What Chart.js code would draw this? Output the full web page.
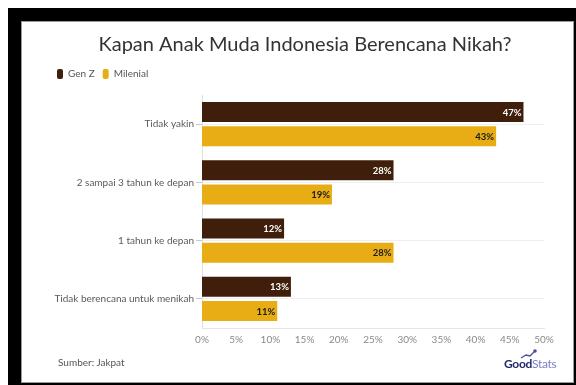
<!DOCTYPE html>
<html>
<head>
<meta charset="utf-8">
<script src="https://cdn.jsdelivr.net/npm/chart.js@4"></script>
<style>
  html, body { margin: 0; padding: 0; background: #fff; }
  body { width: 576px; height: 385px; position: relative; overflow: hidden; font-family: Lato, "Noto Sans", sans-serif; }
  #frame { position: absolute; left: 8px; top: 8px; width: 568px; height: 377px; background: #000; }
  #panel { position: absolute; left: 21px; top: 21px; width: 551px; height: 360px; background: #fff; border: 1px solid #9a9a9a; }
  #c { position: absolute; left: 0; top: 0; }
  #source { position: absolute; left: 58px; top: 356px; font-size: 10px; color: #555; }
  #logo { position: absolute; left: 504px; top: 356px; font-size: 12px; letter-spacing: -0.3px; }
  #logo .g { color: #23286b; font-weight: bold; }
  #logo .s { color: #7a7fc4; }
  #logoIcon { position: absolute; left: 520px; top: 348px; }
</style>
</head>
<body>
<div id="frame"></div>
<div id="panel"></div>
<canvas id="c" width="576" height="385"></canvas>
<div id="source">Sumber: Jakpat</div>
<svg id="logoIcon" width="20" height="12" viewBox="0 0 20 12">
  <polyline points="1,10 6,7 10,8 15,3" fill="none" stroke="#4a4fa0" stroke-width="1.3"/>
  <circle cx="15" cy="3" r="1.8" fill="#4a4fa0"/>
</svg>
<div id="logo"><span class="g">Good</span><span class="s">Stats</span></div>
<script>
const categories = ['Tidak yakin', '2 sampai 3 tahun ke depan', '1 tahun ke depan', 'Tidak berencana untuk menikah'];
const seriesNames = ['Gen Z', 'Milenial'];
const genZ = [47, 28, 12, 13];
const milenial = [43, 19, 28, 11];
const xTickValues = [0, 5, 10, 15, 20, 25, 30, 35, 40, 45, 50];
const titleText = 'Kapan Anak Muda Indonesia Berencana Nikah?';

const colGenZ = '#3f1f0b';
const colMil = '#e8ad15';

const valueLabels = {
  id: 'valueLabels',
  afterDatasetsDraw(chart) {
    const ctx = chart.ctx;
    ctx.save();
    ctx.font = 'bold 9.5px Lato, sans-serif';
    ctx.textAlign = 'right';
    ctx.textBaseline = 'middle';
    chart.data.datasets.forEach((ds, di) => {
      const meta = chart.getDatasetMeta(di);
      meta.data.forEach((bar, i) => {
        ctx.fillStyle = di === 0 ? '#ffffff' : '#1a1a1a';
        ctx.fillText(ds.data[i] + '%', bar.x - 2, bar.y + 0.5);
      });
    });
    ctx.restore();
  }
};

const layoutTweaks = {
  id: 'layoutTweaks',
  afterInit(chart) {
    const lg = chart.legend;
    if (lg && !lg._patched) {
      const origFit = lg.fit;
      lg.fit = function () { origFit.call(this); this.height += 6; };
      lg._patched = true;
    }
  },
  afterLayout(chart) {
    if (chart.titleBlock) {
      chart.titleBlock.left += 8.5;
      chart.titleBlock.right += 8.5;
    }
  }
};

new Chart(document.getElementById('c'), {
  type: 'bar',
  data: {
    labels: categories,
    datasets: [
      { label: seriesNames[0], data: genZ, backgroundColor: colGenZ, categoryPercentage: 0.833, barPercentage: 0.833 },
      { label: seriesNames[1], data: milenial, backgroundColor: colMil, categoryPercentage: 0.833, barPercentage: 0.833 }
    ]
  },
  options: {
    indexAxis: 'y',
    responsive: false,
    animation: false,
    devicePixelRatio: 1,
    layout: { padding: { left: 49, right: 32, top: 33, bottom: 39 } },
    plugins: {
      title: {
        display: true,
        text: titleText,
        color: '#333333',
        font: { family: 'Lato, sans-serif', size: 20, weight: 'normal', lineHeight: 1.2 },
        padding: { top: 0, bottom: 4 }
      },
      legend: {
        display: true,
        position: 'top',
        align: 'start',
        labels: {
          boxWidth: 6,
          boxHeight: 10,
          padding: 8,
          color: '#555555',
          font: { family: 'Lato, sans-serif', size: 10 },
          useBorderRadius: true,
          borderRadius: 2
        }
      },
      tooltip: { enabled: false }
    },
    scales: {
      x: {
        min: 0,
        max: 50,
        afterBuildTicks(scale) { scale.ticks = xTickValues.map(v => ({ value: v })); },
        afterFit(scale) { scale.height = 18; },
        grid: { display: false, drawTicks: false },
        border: { display: true, color: '#e6e6e6' },
        ticks: {
          padding: 6,
          color: '#8a8a8a',
          font: { family: 'Lato, sans-serif', size: 10 },
          callback: v => v + '%'
        }
      },
      y: {
        afterFit(scale) { scale.width = 153; },
        grid: { display: true, offset: false, color: '#efefef', tickColor: '#c8c8c8', tickLength: 6, drawTicks: true },
        border: { display: true, color: '#e0e0e0' },
        ticks: {
          padding: 2,
          color: '#5a5a5a',
          font: { family: 'Lato, sans-serif', size: 10 }
        }
      }
    }
  },
  plugins: [valueLabels, layoutTweaks]
});
</script>
</body>
</html>
